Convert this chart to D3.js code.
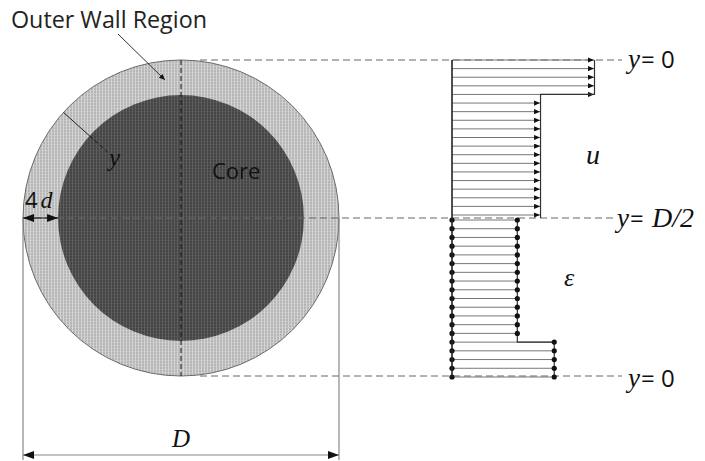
<!DOCTYPE html>
<html>
<head>
<meta charset="utf-8">
<script src="https://cdn.jsdelivr.net/npm/d3@7"></script>
<style>
  html, body { margin: 0; padding: 0; background: #fff; }
  svg { display: block; }
</style>
</head>
<body>
<svg id="chart" width="705" height="461"></svg>
<script>
// Layer values across the half-section, from the wall (y = 0) to the axis (y = D/2)
const layerIndex = [0, 1, 2, 3, 4, 5, 6, 7, 8, 9, 10, 11, 12, 13, 14, 15, 16, 17, 18];
// Velocity u: five wall layers, then fourteen core layers
const uValues = [1.00, 1.00, 1.00, 1.00, 1.00,
                 0.62, 0.62, 0.62, 0.62, 0.62, 0.62, 0.62,
                 0.62, 0.62, 0.62, 0.62, 0.62, 0.62, 0.62];
// Porosity ε: fourteen core layers (from the axis), then five wall layers
const epsValues = [0.46, 0.46, 0.46, 0.46, 0.46, 0.46, 0.46,
                   0.46, 0.46, 0.46, 0.46, 0.46, 0.46, 0.46,
                   0.72, 0.72, 0.72, 0.72, 0.72];
// Pipe geometry: diameter D = 1, wall region thickness 4d as a fraction of D
const pipeDiameter = 1;
const wallFraction = 0.111;
// Reference-line labels
const levelLabels = [
  { italic: "y", rest: "= 0", level: "top" },
  { italic: "y", rest: "= ", tail: "D/2", level: "mid" },
  { italic: "y", rest: "= 0", level: "bottom" }
];

const svg = d3.select("#chart");
const sans = "'Open Sans', 'Noto Sans', sans-serif";
const serif = "'Liberation Serif', 'DejaVu Serif', serif";

// ---- scales ----
const px = d3.scaleLinear().domain([0, pipeDiameter]).range([23, 339]);   // across the pipe
const py = d3.scaleLinear().domain([0, pipeDiameter]).range([60, 376]);   // down the pipe
const vx = d3.scaleLinear().domain([0, 1]).range([452, 594]);             // profile magnitude
const uy = d3.scalePoint().domain(layerIndex).range([60, 215]);
const ey = d3.scalePoint().domain(layerIndex).range([220, 377]);

const cx = px(pipeDiameter / 2), cy = py(pipeDiameter / 2);
const R = px(pipeDiameter) - cx;
const rCore = R - (px(wallFraction) - px(0));

// ---- defs: textures and markers ----
const defs = svg.append("defs");
function texture(id, base, light) {
  const p = defs.append("pattern").attr("id", id)
    .attr("patternUnits", "userSpaceOnUse").attr("width", 3).attr("height", 3);
  p.append("rect").attr("width", 3).attr("height", 3).attr("fill", base);
  p.append("rect").attr("x", 0).attr("width", 1).attr("height", 3).attr("fill", light);
  p.append("rect").attr("y", 0).attr("width", 3).attr("height", 1).attr("fill", light).attr("opacity", 0.5);
}
texture("wallTex", "#b6b6b6", "#d4d4d4");
texture("coreTex", "#444444", "#5e5e5e");

function arrowMarker(id, w, h) {
  defs.append("marker").attr("id", id)
    .attr("viewBox", `0 ${-h} ${w} ${2 * h}`)
    .attr("refX", w).attr("refY", 0)
    .attr("markerWidth", w).attr("markerHeight", 2 * h)
    .attr("markerUnits", "userSpaceOnUse")
    .attr("orient", "auto-start-reverse")
    .append("path").attr("d", `M0,${-h}L${w},0L0,${h}Z`).attr("fill", "#111");
}
arrowMarker("head", 6, 2.6);
arrowMarker("dimHead", 11, 4);

// ---- pipe cross-section ----
svg.append("circle").attr("cx", cx).attr("cy", cy).attr("r", R)
  .attr("fill", "url(#wallTex)").attr("stroke", "#6a6a6a").attr("stroke-width", 1);
svg.append("circle").attr("cx", cx).attr("cy", cy).attr("r", rCore)
  .attr("fill", "url(#coreTex)");

// centre lines
svg.append("line").attr("x1", cx).attr("x2", cx).attr("y1", py(0)).attr("y2", py(pipeDiameter))
  .attr("stroke", "#111").attr("stroke-width", 1).attr("stroke-dasharray", "5,3");

// horizontal reference lines carried over to the profiles
const dash = { stroke: "#666", width: 1, pattern: "7,4" };
[[200, 622, py(0)], [px(0), 616, cy], [200, 622, py(pipeDiameter)]].forEach(([x1, x2, y]) => {
  svg.append("line").attr("x1", x1).attr("x2", x2).attr("y1", y).attr("y2", y)
    .attr("stroke", dash.stroke).attr("stroke-width", dash.width)
    .attr("stroke-dasharray", dash.pattern);
});

// radial coordinate y
const ang = Math.atan2(-106, -118);
const rp = r => [cx + r * Math.cos(ang), cy + r * Math.sin(ang)];
svg.append("line")
  .attr("x1", rp(R)[0]).attr("y1", rp(R)[1]).attr("x2", rp(rCore)[0]).attr("y2", rp(rCore)[1])
  .attr("stroke", "#222").attr("stroke-width", 1);
svg.append("line")
  .attr("x1", rp(rCore)[0]).attr("y1", rp(rCore)[1]).attr("x2", rp(rCore - 24)[0]).attr("y2", rp(rCore - 24)[1])
  .attr("stroke", "#111").attr("stroke-width", 1).attr("stroke-dasharray", "4,3");
svg.append("text").attr("x", 109).attr("y", 166)
  .attr("font-family", serif).attr("font-style", "italic").attr("font-size", 25)
  .attr("fill", "#111").text("y");

// wall thickness 4d
svg.append("line").attr("x1", px(0)).attr("x2", px(wallFraction)).attr("y1", cy).attr("y2", cy)
  .attr("stroke", "#111").attr("stroke-width", 1)
  .attr("marker-start", "url(#dimHead)").attr("marker-end", "url(#dimHead)");
const t4d = svg.append("text").attr("x", 25).attr("y", 208).attr("font-size", 22).attr("fill", "#111");
t4d.append("tspan").attr("font-family", sans).text("4");
t4d.append("tspan").attr("font-family", serif).attr("font-style", "italic").attr("font-size", 24).attr("dx", 3).text("d");

// diameter D
[px(0), px(pipeDiameter)].forEach(x => {
  svg.append("line").attr("x1", x).attr("x2", x).attr("y1", cy).attr("y2", 460)
    .attr("stroke", "#888").attr("stroke-width", 1.2);
});
svg.append("line").attr("x1", px(0)).attr("x2", px(pipeDiameter)).attr("y1", 455).attr("y2", 455)
  .attr("stroke", "#888").attr("stroke-width", 1.2)
  .attr("marker-start", "url(#dimHead)").attr("marker-end", "url(#dimHead)");
svg.append("text").attr("x", cx).attr("y", 447).attr("text-anchor", "middle")
  .attr("font-family", serif).attr("font-style", "italic").attr("font-size", 25)
  .attr("fill", "#111").text("D");

// region labels
svg.append("text").attr("x", 11).attr("y", 28)
  .attr("font-family", sans).attr("font-size", 23.3).attr("fill", "#222").text("Outer Wall Region");
svg.append("line").attr("x1", 118).attr("y1", 34).attr("x2", 165).attr("y2", 80)
  .attr("stroke", "#333").attr("stroke-width", 1).attr("marker-end", "url(#head)");
svg.append("text").attr("x", 212).attr("y", 179)
  .attr("font-family", sans).attr("font-size", 22).attr("fill", "#111").text("Core");

// ---- velocity profile u ----
const gU = svg.append("g");
gU.selectAll("line.u").data(uValues).join("line").attr("class", "u")
  .attr("x1", vx(0)).attr("x2", d => vx(d))
  .attr("y1", (d, i) => uy(i)).attr("y2", (d, i) => uy(i))
  .attr("stroke", "#777").attr("stroke-width", 1)
  .attr("marker-end", "url(#head)");
gU.append("path")
  .datum(uValues.map((v, i) => [vx(v) + 0.5, uy(i)]).concat([[vx(uValues[uValues.length - 1]) + 0.5, cy]]))
  .attr("d", d3.line().curve(d3.curveStepAfter))
  .attr("fill", "none").attr("stroke", "#333").attr("stroke-width", 1.2);

// ---- porosity profile ε ----
const gE = svg.append("g");
gE.selectAll("line.e").data(epsValues).join("line").attr("class", "e")
  .attr("x1", vx(0)).attr("x2", d => vx(d))
  .attr("y1", (d, i) => ey(i)).attr("y2", (d, i) => ey(i))
  .attr("stroke", "#777").attr("stroke-width", 1);
gE.append("path")
  .datum(epsValues.map((v, i) => [vx(v), ey(i)]))
  .attr("d", d3.line().curve(d3.curveStepBefore))
  .attr("fill", "none").attr("stroke", "#333").attr("stroke-width", 1.2);
gE.selectAll("circle.l").data(epsValues).join("circle").attr("class", "l")
  .attr("cx", vx(0)).attr("cy", (d, i) => ey(i)).attr("r", 2.6).attr("fill", "#111");
gE.selectAll("circle.r").data(epsValues).join("circle").attr("class", "r")
  .attr("cx", d => vx(d)).attr("cy", (d, i) => ey(i)).attr("r", 2.6).attr("fill", "#111");

// common base line of both profiles
svg.append("line").attr("x1", vx(0)).attr("x2", vx(0)).attr("y1", uy(0)).attr("y2", ey(layerIndex.length - 1))
  .attr("stroke", "#222").attr("stroke-width", 1.6);

// profile symbols
svg.append("text").attr("x", 593).attr("y", 164).attr("text-anchor", "middle")
  .attr("font-family", serif).attr("font-style", "italic").attr("font-size", 28)
  .attr("fill", "#111").text("u");
svg.append("text").attr("x", 569).attr("y", 286).attr("text-anchor", "middle")
  .attr("font-family", serif).attr("font-style", "italic").attr("font-size", 26)
  .attr("fill", "#111").text("ε");

// level labels
const levelPos = { top: [628, 68], mid: [617, 227], bottom: [628, 387] };
levelLabels.forEach(l => {
  const [x, y] = levelPos[l.level];
  const t = svg.append("text").attr("x", x).attr("y", y).attr("font-size", 24).attr("fill", "#111");
  t.append("tspan").attr("font-family", serif).attr("font-style", "italic").attr("font-size", 27).text(l.italic);
  t.append("tspan").attr("font-family", sans).attr("dx", 1).text(l.rest);
  if (l.tail) t.append("tspan").attr("font-family", serif).attr("font-style", "italic").attr("font-size", 28).attr("dx", 2).text(l.tail);
});
</script>
</body>
</html>
